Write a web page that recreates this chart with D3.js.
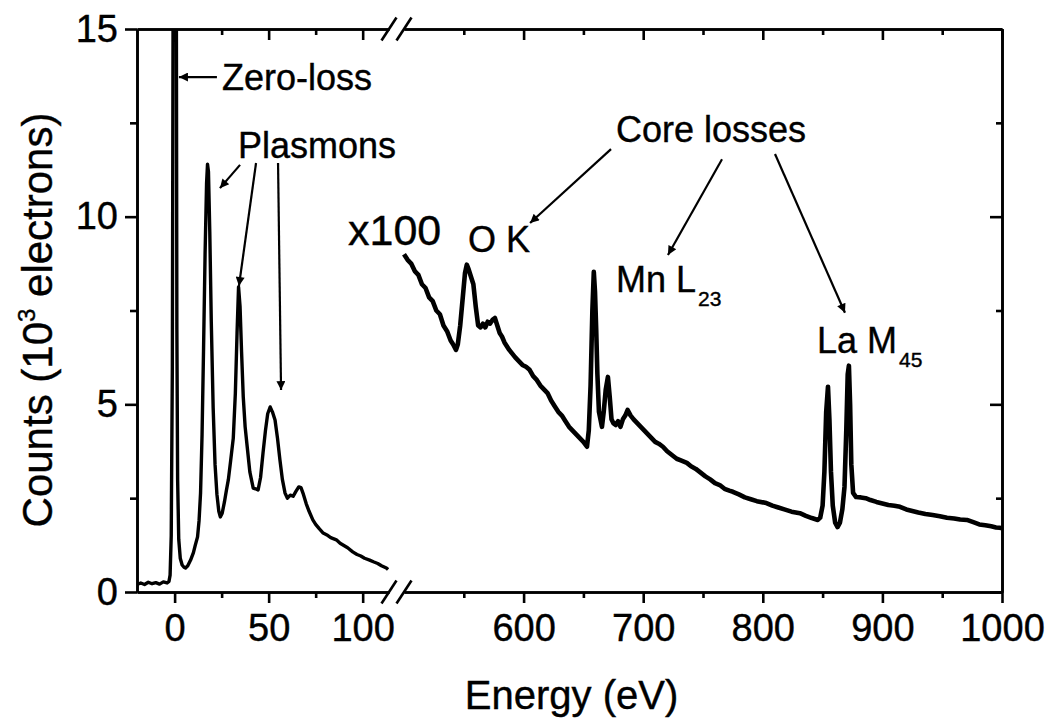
<!DOCTYPE html>
<html>
<head>
<meta charset="utf-8">
<script src="https://cdn.jsdelivr.net/npm/d3@7"></script>
<style>
  body { margin: 0; background: #fff; }
  svg { display: block; font-family: "Liberation Sans", Arial, sans-serif; }
  text { stroke: #000; stroke-width: 0.4px; }
</style>
</head>
<body>
<div id="container"></div>
<script>
// low-loss part of the spectrum: [energy eV, counts 10^3]
const lowLoss = [
  [-20, 0.2], [-18, 0.24], [-16, 0.2], [-14, 0.26], [-12, 0.22], [-10, 0.25],
  [-8, 0.21], [-6, 0.27], [-4, 0.24], [-3, 0.28], [-2.4, 0.45], [-1.8, 1.5],
  [-1.2, 6], [-0.8, 16], [-0.4, 40], [0, 60], [0.4, 45], [0.8, 20], [1.2, 7],
  [1.6, 3], [2.2, 1.4], [3, 0.9], [4, 0.72], [5, 0.66], [5.8, 0.64], [7, 0.7],
  [8.5, 0.85], [10, 1.05], [11, 1.25], [12.2, 1.47], [13, 1.9], [13.8, 2.64],
  [14.6, 4.2], [15.4, 6.5], [16.2, 9.0], [17, 10.9], [17.5, 11.4], [18, 11.2],
  [18.7, 9.6], [19.5, 7.2], [20.5, 4.9], [21.5, 3.4], [22.5, 2.6], [23.5, 2.15],
  [24.3, 2.0], [25.3, 2.1], [26.5, 2.4], [27.5, 2.7], [28.6, 3.0], [29.8, 3.5],
  [31.2, 4.1], [32.3, 5.3], [33.2, 6.9], [34, 8.13], [34.8, 7.6], [35.6, 6.4],
  [36.5, 5.2], [37.5, 4.4], [38.6, 3.87], [40, 3.2], [41.8, 2.77], [43, 2.75],
  [44.4, 2.72], [45.7, 3.05], [47, 3.7], [48.3, 4.3], [49.5, 4.75], [50.8, 4.93],
  [52, 4.8], [53.4, 4.58], [54.7, 4.1], [56, 3.52], [57.3, 3.0], [58.7, 2.64],
  [60, 2.5], [61.5, 2.58], [63, 2.55], [64.5, 2.68], [66, 2.8], [67.2, 2.78],
  [68.5, 2.6], [70, 2.35], [71.5, 2.15], [73.5, 1.92], [75, 1.8], [77, 1.68],
  [79, 1.57], [81, 1.52], [83, 1.45], [86, 1.39], [88, 1.3], [90, 1.24],
  [92, 1.18], [94.7, 1.07], [97, 1.0], [99, 0.96], [101, 0.9], [103.7, 0.85],
  [106, 0.8], [108, 0.76], [110, 0.7], [112.6, 0.64], [113.5, 0.6]
];

// core-loss part, multiplied by 100: [energy eV, counts 10^3]
const coreLoss = [
  [500, 9.0], [503, 8.85], [506, 8.75], [509, 8.55], [512, 8.45], [515, 8.2],
  [518, 8.1], [521, 7.85], [524, 7.75], [527, 7.5], [530, 7.4], [533, 7.1],
  [536, 6.95], [539, 6.7], [541, 6.6], [543.5, 6.45], [545, 6.6], [547, 7.1],
  [549, 7.8], [551, 8.5], [552.5, 8.72], [554, 8.6], [556, 8.4], [558, 8.2],
  [560, 7.6], [562, 7.1], [564, 7.05], [566, 7.15], [568, 7.05], [570, 7.2],
  [572, 7.15], [574, 7.25], [576, 7.3], [578, 7.1], [580, 6.9], [582, 6.8],
  [584, 6.65], [586, 6.55], [588, 6.45], [590, 6.37], [593, 6.25], [596, 6.15],
  [599, 6.05], [602, 6.0], [605, 5.92], [608, 5.75], [611, 5.65], [614, 5.5],
  [617, 5.4], [620, 5.3], [623, 5.1], [626, 4.95], [629, 4.8], [632, 4.7],
  [635, 4.55], [638, 4.4], [641, 4.3], [644, 4.2], [647, 4.1], [650, 4.0],
  [653, 3.87], [654.5, 4.3], [656, 5.5], [657.5, 7.5], [658.7, 8.53], [659.7, 8.0],
  [660.7, 7.0], [661.7, 5.8], [663, 4.8], [665.5, 4.4], [667, 4.8], [668.7, 5.4],
  [670.5, 5.73], [672, 5.2], [673.5, 4.6], [675, 4.5], [677, 4.45], [679, 4.55],
  [681, 4.4], [683, 4.6], [685, 4.7], [687, 4.85], [689.5, 4.7], [692, 4.6],
  [695, 4.5], [698, 4.4], [701, 4.3], [704, 4.2], [707, 4.1], [710, 4.0],
  [713, 3.95], [716.5, 3.87], [720, 3.75], [724, 3.65], [728, 3.55], [732, 3.5],
  [736.5, 3.44], [740, 3.35], [744, 3.28], [748, 3.18], [752, 3.08], [756, 3.0],
  [760, 2.9], [764, 2.85], [768, 2.75], [772, 2.7], [775, 2.67], [780, 2.6],
  [785, 2.52], [790, 2.47], [795, 2.42], [803, 2.37], [808, 2.3], [813, 2.25],
  [818, 2.2], [824, 2.14], [831, 2.1], [836, 2.03], [841, 1.97], [846, 1.92],
  [848, 1.98], [850, 2.3], [851.5, 3.2], [853, 4.8], [854.5, 5.47], [855.7, 4.6],
  [857, 3.2], [858.5, 2.3], [860.5, 1.85], [862.5, 1.73], [864.5, 1.85], [866.5, 2.2],
  [868.3, 2.8], [869.8, 4.3], [871, 5.8], [872, 6.03], [873, 5.0], [874, 3.4],
  [875.5, 2.64], [878, 2.53], [882, 2.52], [886, 2.5], [890, 2.45], [895, 2.4],
  [900, 2.36], [905, 2.32], [910, 2.3], [914.7, 2.27], [920, 2.2], [925, 2.16],
  [930, 2.12], [936, 2.08], [942, 2.05], [948, 2.02], [954, 1.98], [960, 1.96],
  [965, 1.93], [970.7, 1.92], [976, 1.86], [981, 1.8], [986, 1.78], [991, 1.75],
  [995, 1.72], [998, 1.71], [1000, 1.7]
];

// axis ticks
const yTicks = [0, 5, 10, 15];
const yMinor = [2.5, 7.5, 12.5];
const lowTicks = [0, 50, 100];
const lowMinor = [25, 75];
const coreTicks = [600, 700, 800, 900, 1000];
const coreMinor = [550, 650, 750, 850, 950];

// annotation texts, placed in data units of the segment they sit over
const labels = [
  { seg: "low", e: 25.2, v: 13.37, text: "Zero-loss" },
  { seg: "low", e: 33.7, v: 11.56, text: "Plasmons" },
  { seg: "low", e: 92.2, v: 9.25, text: "x100", big: true },
  { seg: "core", e: 553.5, v: 9.06, text: "O K" },
  { seg: "core", e: 677.3, v: 11.99, text: "Core losses" },
  { seg: "core", e: 677.3, v: 7.99, text: "Mn L", sub: "23" },
  { seg: "core", e: 845.3, v: 6.37, text: "La M", sub: "45" }
];

// annotation arrows: [segment, e1, v1, e2, v2] (arrowhead at the second point)
const arrows = [
  ["low", 22.5, 13.72, 2.3, 13.72],
  ["low", 34.8, 11.38, 24.1, 10.76],
  ["low", 43.3, 11.43, 34.2, 8.15],
  ["low", 55.0, 11.43, 56.6, 5.38],
  ["core", 673.1, 11.8, 605.4, 9.83],
  ["core", 765.9, 11.53, 720.7, 8.98],
  ["core", 810.2, 11.67, 868.7, 7.44]
];

draw();

function draw() {
  const width = 1052;
  const height = 719;

  const left = 137, right = 1002, top = 29, bottom = 592;
  const breakL = 389, breakR = 404;

  // two x segments with a break in between
  const xLow = d3.scaleLinear().domain([-20, 114]).range([left, breakL]);
  const xCore = d3.scaleLinear().domain([500, 1000]).range([breakR, right]);
  const y = d3.scaleLinear().domain([0, 15]).range([bottom, top]);
  const xs = { low: xLow, core: xCore };

  const svg = d3
    .select("#container")
    .append("svg")
    .attr("width", width)
    .attr("height", height);

  const defs = svg.append("defs");
  defs
    .append("marker")
    .attr("id", "head")
    .attr("viewBox", "0 0 10 10")
    .attr("refX", 10)
    .attr("refY", 5)
    .attr("markerUnits", "userSpaceOnUse")
    .attr("markerWidth", 15)
    .attr("markerHeight", 9)
    .attr("orient", "auto")
    .append("path")
    .attr("d", "M0,0 L10,5 L0,10 Z")
    .attr("fill", "#000");

  defs
    .append("clipPath")
    .attr("id", "clipLow")
    .append("rect")
    .attr("x", left)
    .attr("y", top)
    .attr("width", breakL - left)
    .attr("height", bottom - top);

  // spectra
  const lineLow = d3.line().x((d) => xLow(d[0])).y((d) => y(d[1]));
  const lineCore = d3.line().x((d) => xCore(d[0])).y((d) => y(d[1]));

  svg
    .append("path")
    .datum(lowLoss)
    .attr("clip-path", "url(#clipLow)")
    .attr("fill", "none")
    .attr("stroke", "#000")
    .attr("stroke-width", 3.4)
    .attr("stroke-linejoin", "round")
    .attr("d", lineLow);

  svg
    .append("path")
    .datum(coreLoss)
    .attr("fill", "none")
    .attr("stroke", "#000")
    .attr("stroke-width", 4.6)
    .attr("stroke-linejoin", "round")
    .attr("d", lineCore);

  // axes
  const font = 38;
  function style(g) {
    g.selectAll(".domain").attr("stroke-width", 2.6);
    g.selectAll(".tick line").attr("stroke-width", 2.6);
    g.selectAll("text")
      .attr("font-size", font)
      .attr("font-family", "Liberation Sans, Arial, sans-serif")
      .attr("fill", "#000");
  }

  [[xLow, lowTicks, lowMinor], [xCore, coreTicks, coreMinor]].forEach((s) => {
    // bottom, outward ticks with labels
    svg.append("g")
      .attr("transform", "translate(0," + bottom + ")")
      .call(d3.axisBottom(s[0]).tickValues(s[1]).tickSize(11).tickSizeOuter(0)
        .tickPadding(11).tickFormat(d3.format("d")))
      .call(style);
    svg.append("g")
      .attr("transform", "translate(0," + bottom + ")")
      .call(d3.axisBottom(s[0]).tickValues(s[2]).tickSize(6).tickSizeOuter(0).tickFormat(""))
      .call(style);
    // top, inward ticks
    svg.append("g")
      .attr("transform", "translate(0," + top + ")")
      .call(d3.axisTop(s[0]).tickValues(s[1]).tickSize(-11).tickSizeOuter(0).tickFormat(""))
      .call(style);
    svg.append("g")
      .attr("transform", "translate(0," + top + ")")
      .call(d3.axisTop(s[0]).tickValues(s[2]).tickSize(-6).tickSizeOuter(0).tickFormat(""))
      .call(style);
  });

  svg.append("g")
    .attr("transform", "translate(" + left + ",0)")
    .call(d3.axisLeft(y).tickValues(yTicks).tickSize(12).tickSizeOuter(0).tickPadding(7))
    .call(style);
  svg.append("g")
    .attr("transform", "translate(" + left + ",0)")
    .call(d3.axisLeft(y).tickValues(yMinor).tickSize(7).tickSizeOuter(0).tickFormat(""))
    .call(style);
  svg.append("g")
    .attr("transform", "translate(" + right + ",0)")
    .call(d3.axisRight(y).tickValues(yTicks).tickSize(-12).tickSizeOuter(0).tickFormat(""))
    .call(style);
  svg.append("g")
    .attr("transform", "translate(" + right + ",0)")
    .call(d3.axisRight(y).tickValues(yMinor).tickSize(-6).tickSizeOuter(0).tickFormat(""))
    .call(style);

  // break marks "//" on top and bottom axes
  [top, bottom].forEach((yy) => {
    [breakL, breakR].forEach((xx) => {
      svg.append("line")
        .attr("x1", xx - 7.5).attr("y1", yy + 11.5)
        .attr("x2", xx + 7.5).attr("y2", yy - 11.5)
        .attr("stroke", "#000")
        .attr("stroke-width", 2.6);
    });
  });

  // annotation arrows
  svg.selectAll(".arrow")
    .data(arrows)
    .enter()
    .append("line")
    .attr("class", "arrow")
    .attr("x1", (d) => xs[d[0]](d[1]))
    .attr("y1", (d) => y(d[2]))
    .attr("x2", (d) => xs[d[0]](d[3]))
    .attr("y2", (d) => y(d[4]))
    .attr("stroke", "#000")
    .attr("stroke-width", 2.2)
    .attr("marker-end", "url(#head)");

  // annotation texts
  const t = svg.selectAll(".label")
    .data(labels)
    .enter()
    .append("text")
    .attr("class", "label")
    .attr("x", (d) => xs[d.seg](d.e))
    .attr("y", (d) => y(d.v))
    .attr("font-size", (d) => (d.big ? 43 : 36))
    .attr("fill", "#000")
    .text((d) => d.text);
  t.filter((d) => d.sub)
    .append("tspan")
    .attr("dx", 2)
    .attr("dy", 14)
    .attr("font-size", 21)
    .text((d) => d.sub);

  // axis titles
  svg.append("text")
    .attr("x", (left + right) / 2 + 2)
    .attr("y", 709)
    .attr("text-anchor", "middle")
    .attr("font-size", 40)
    .text("Energy (eV)");

  const yt = svg.append("text")
    .attr("transform", "translate(52," + 320 + ") rotate(-90)")
    .attr("text-anchor", "middle")
    .attr("font-size", 42);
  yt.append("tspan").text("Counts (10");
  yt.append("tspan").attr("dy", -17).attr("font-size", 24).text("3");
  yt.append("tspan").attr("dy", 17).text(" electrons)");
}
</script>
</body>
</html>
